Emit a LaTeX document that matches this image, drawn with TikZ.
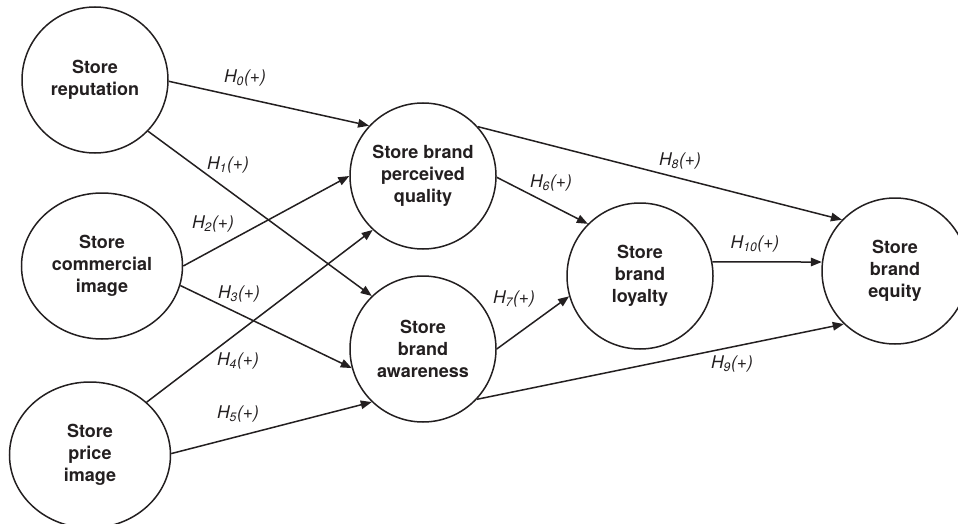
\documentclass[tikz,border=0pt]{standalone}
\usepackage{fontspec}
\setmainfont{TeX Gyre Heros}
\usetikzlibrary{arrows.meta,shapes.geometric}
\definecolor{ink}{HTML}{231F20}
\begin{document}
\begin{tikzpicture}[x=1pt,y=-1pt,
  latent/.style={draw=ink, line width=1.5pt, circle, minimum size=146pt, inner sep=0pt,
    align=center, text=ink, font=\fontsize{18}{22}\selectfont\bfseries},
  latentwide/.style={latent, ellipse, minimum width=161pt, minimum height=146pt},
  hyp/.style={draw=ink, line width=1.5pt, -{Triangle[length=11pt,width=8.5pt]}},
  lbl/.style={text=ink, font=\fontsize{17.5}{20}\selectfont\itshape, inner sep=0pt}]
\useasboundingbox (0,0) rectangle (958,524);
\fill[white] (0,0) rectangle (958,524);

\node[latent]     (rep)    at (95,80)   {Store\\reputation};
\node[latentwide] (comm)   at (102,266) {Store\\commercial\\image};
\node[latentwide] (price)  at (90,455)  {Store\\price\\image};
\node[latent]     (qual)   at (423,176) {Store brand\\perceived\\quality};
\node[latent]     (aware)  at (423,349) {Store\\brand\\awareness};
\node[latent]     (loyal)  at (640,276) {Store\\brand\\loyalty};
\node[latent]     (equity) at (895,271) {Store\\brand\\equity};

\draw[hyp] (rep.-1.5)  -- (qual.137);
\draw[hyp] (rep.-44.5) -- (aware.134);
\draw[hyp] (comm.0)    -- (qual.180);
\draw[hyp] (comm.-14)  -- (aware.195);
\draw[hyp] (price.43)  -- (qual.227);
\draw[hyp] (price.1)   -- (aware.226);
\draw[hyp] (qual.-1)   -- (loyal.135);
\draw[hyp] (aware.0)   -- (loyal.196);
\draw[hyp] (qual.42)   -- (equity.136);
\draw[hyp] (loyal.11)  -- (equity.173);
\draw[hyp] (aware.-43) -- (equity.226);

\node[lbl] (h0)  at (245,78)  {H\textsubscript{0}(+)};
\node[lbl] (h1)  at (228,165) {H\textsubscript{1}(+)};
\node[lbl] (h2)  at (213,224) {H\textsubscript{2}(+)};
\node[lbl] (h3)  at (239,294) {H\textsubscript{3}(+)};
\node[lbl] (h4)  at (238,361) {H\textsubscript{4}(+)};
\node[lbl] (h5)  at (238,414) {H\textsubscript{5}(+)};
\node[lbl] (h6)  at (551,183) {H\textsubscript{6}(+)};
\node[lbl] (h7)  at (514,299) {H\textsubscript{7}(+)};
\node[lbl] (h8)  at (680,161) {H\textsubscript{8}(+)};
\node[lbl] (h9)  at (732,364) {H\textsubscript{9}(+)};
\node[lbl] (h10) at (755,244) {H\textsubscript{10}(+)};
\end{tikzpicture}
\end{document}
